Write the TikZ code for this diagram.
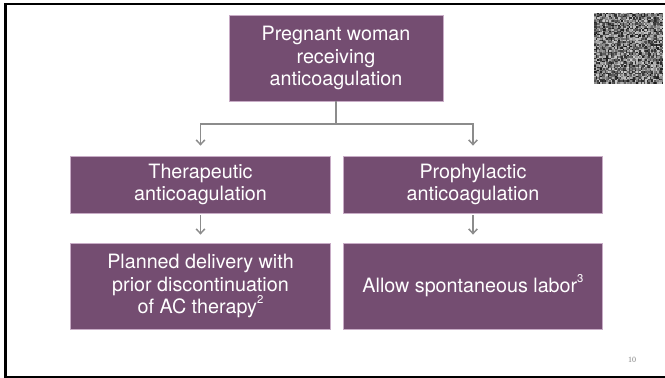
\documentclass[tikz,border=0pt]{standalone}
\usepackage{fontspec}
\setmainfont{TeX Gyre Heros}
\newfontfamily\pagenumfont{Liberation Serif}
\usetikzlibrary{arrows,arrows.meta}
\definecolor{boxfill}{RGB}{116,77,113}
\definecolor{boxedge}{RGB}{200,172,198}
\definecolor{linkgray}{RGB}{140,140,140}
\newcommand\supnum[1]{\raisebox{0.5em}{\fontsize{8.5}{8.5}\selectfont #1}}

\begin{document}
\begin{tikzpicture}[x=0.75pt,y=-0.75pt,>={Straight Barb[length=3.5pt,width=6.5pt]},
		box/.style={draw=boxedge,line width=0.6pt,fill=boxfill,text=white,align=center,inner sep=0pt,font=\fontsize{14.8}{17}\selectfont},
		link/.style={draw=linkgray,line width=1.1pt}]
				\useasboundingbox (0,0) rectangle (665,378);
				\clip (0,0) rectangle (665,378);
				\draw [line width=2pt] (5.3,4) rectangle (668,377.5);
				\pgfmathsetseed{42}
				\foreach \i in {0,...,45}
					\foreach \j in {0,...,46} {
						\pgfmathrandominteger{\g}{20}{90}
						\fill [black!\g] (594+1.5*\i,13+1.5*\j) rectangle ++(1.55,1.55);
					}
				\node[box,minimum width=160.5pt,minimum height=64.5pt] (woman) at (336,58) {Pregnant woman\\receiving\\anticoagulation};
				\node[box,minimum width=194.6pt,minimum height=42.75pt] (thera) at (200.5,184.5) {Therapeutic\\anticoagulation};
				\node[box,minimum width=194.6pt,minimum height=42.75pt] (proph) at (473,184.5) {Prophylactic\\anticoagulation};
				\node[box,minimum width=194.6pt,minimum height=64.5pt] (planned) at (200.5,286) {Planned delivery with\\prior discontinuation\\of AC therapy\supnum{2}};
				\node[box,minimum width=194.6pt,minimum height=64.5pt] (spont) at (473,286) {Allow spontaneous labor\supnum{3}};
				\coordinate (split) at (336,124);
				\draw [link] (woman.south) -- (split);
				\draw [link,->,shorten >=7.5pt] (split) -| (thera.north);
				\draw [link,->,shorten >=7.5pt] (split) -| (proph.north);
				\draw [link,->,shorten <=1.5pt,shorten >=6pt] (thera) -- (planned);
				\draw [link,->,shorten <=1.5pt,shorten >=6pt] (proph) -- (spont);
				\node[text=gray,font=\pagenumfont\fontsize{6}{7}\selectfont] (pagenum) at (632,360) {10};
			\end{tikzpicture}
\end{document}
